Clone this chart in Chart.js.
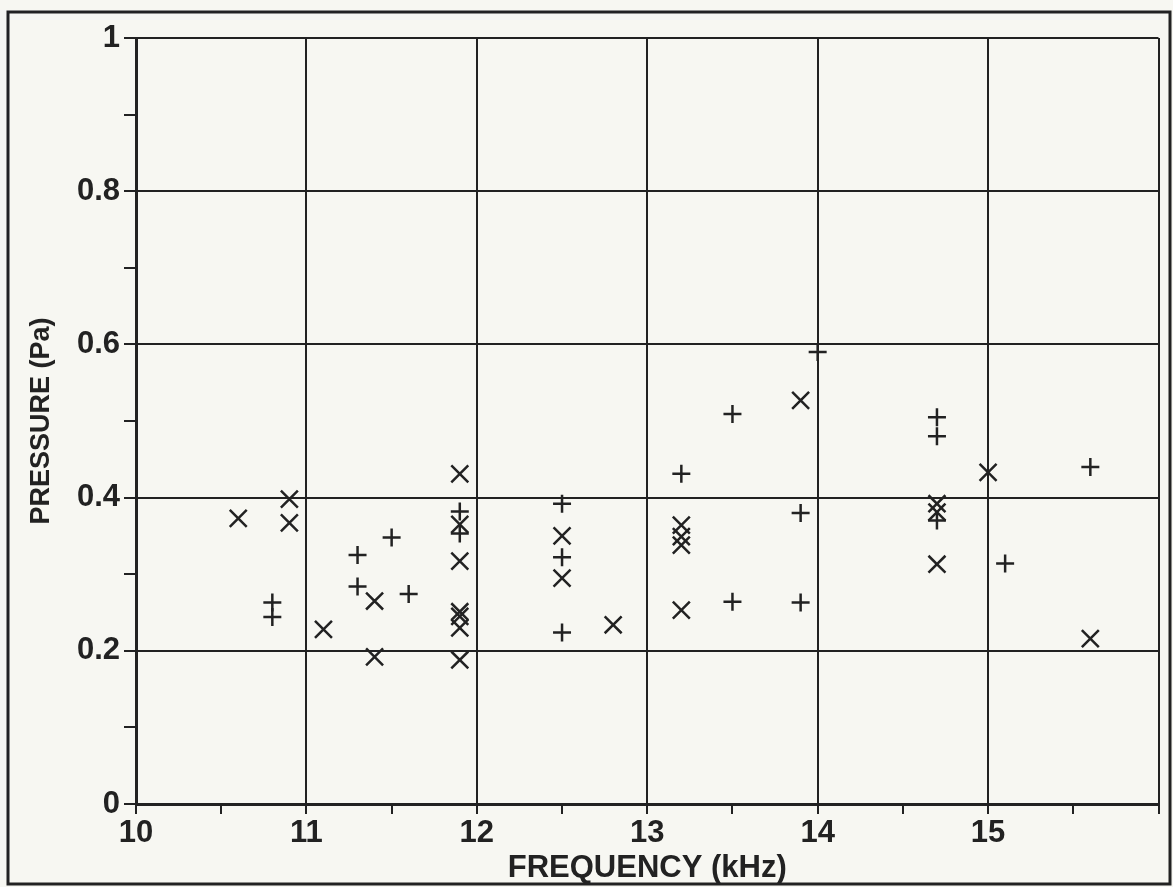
<!DOCTYPE html>
<html>
<head>
<meta charset="utf-8">
<script src="https://cdn.jsdelivr.net/npm/chart.js@4.4.0/dist/chart.umd.min.js"></script>
<style>
  html, body { margin: 0; padding: 0; background: #f7f7f2; }
</style>
</head>
<body>
<canvas id="pressureChart" width="1173" height="887"></canvas>
<script>
// "+" series
var plusFreq = [10.8, 10.8, 11.3, 11.3, 11.5, 11.6, 11.9, 11.9, 12.5, 12.5, 12.5,
                13.2, 13.5, 13.5, 13.9, 13.9, 14.0, 14.7, 14.7, 14.7, 15.1, 15.6];
var plusPressure = [0.263, 0.244, 0.325, 0.284, 0.348, 0.274, 0.382, 0.353, 0.392, 0.322, 0.224,
                    0.431, 0.509, 0.264, 0.380, 0.263, 0.590, 0.505, 0.480, 0.370, 0.314, 0.440];

// "x" series
var crossFreq = [10.6, 10.9, 10.9, 11.1, 11.4, 11.4, 11.9, 11.9, 11.9, 11.9, 11.9, 11.9, 11.9,
                 12.5, 12.5, 12.8, 13.2, 13.2, 13.2, 13.2, 13.9, 14.7, 14.7, 14.7, 15.0, 15.6];
var crossPressure = [0.373, 0.398, 0.367, 0.228, 0.265, 0.192, 0.431, 0.365, 0.317, 0.251, 0.245, 0.230, 0.188,
                     0.350, 0.295, 0.234, 0.364, 0.349, 0.338, 0.253, 0.527, 0.392, 0.381, 0.313, 0.433, 0.216];

var xTickLabels = [10, 11, 12, 13, 14, 15];
var yTickLabels = [0, 0.2, 0.4, 0.6, 0.8, 1];

var ink = '#222222';
var fontFamily = '"Liberation Sans", Arial, sans-serif';
var tickFont = { family: fontFamily, size: 31, weight: 'bold' };

function points(xs, ys) {
    return xs.map(function (x, i) { return { x: x, y: ys[i] }; });
}
function isXMajor(v) { return xTickLabels.indexOf(v) !== -1 || Math.abs(v - 16) < 1e-6; }
function isYMajor(v) {
    var r = Math.round(v * 10) / 10;
    return yTickLabels.indexOf(r) !== -1;
}

var paperPlugin = {
    id: 'paper',
    beforeDraw: function (chart) {
        var c = chart.ctx;
        c.save();
        c.fillStyle = '#f7f7f2';
        c.fillRect(0, 0, chart.width, chart.height);
        c.restore();
    },
    afterDraw: function (chart) {
        var c = chart.ctx;
        c.save();
        c.strokeStyle = ink;
        c.lineWidth = 3;
        c.strokeRect(8, 12, 1162, 872);
        c.restore();
    }
};

new Chart(document.getElementById('pressureChart').getContext('2d'), {
    type: 'scatter',
    data: {
        datasets: [{
            label: '+',
            data: points(plusFreq, plusPressure),
            pointStyle: 'cross',
            pointRadius: 9,
            pointBorderWidth: 2.5,
            borderColor: ink,
            backgroundColor: ink
        }, {
            label: 'x',
            data: points(crossFreq, crossPressure),
            pointStyle: 'crossRot',
            pointRadius: 12,
            pointBorderWidth: 2.5,
            borderColor: ink,
            backgroundColor: ink
        }]
    },
    options: {
        responsive: false,
        animation: false,
        events: [],
        layout: { padding: { top: 38, right: 11, left: 0, bottom: 0 } },
        plugins: { legend: { display: false }, tooltip: { enabled: false } },
        scales: {
            x: {
                type: 'linear',
                min: 10,
                max: 16,
                afterFit: function (s) { s.height = 83; },
                afterBuildTicks: function (s) {
                    var t = [];
                    for (var i = 0; i <= 12; i++) t.push({ value: 10 + i * 0.5 });
                    s.ticks = t;
                },
                ticks: {
                    autoSkip: false,
                    maxRotation: 0,
                    padding: 1,
                    color: ink,
                    font: tickFont,
                    callback: function (v) { return xTickLabels.indexOf(v) !== -1 ? String(v) : ''; }
                },
                grid: {
                    color: function (ctx) { return isXMajor(ctx.tick.value) ? ink : 'rgba(0,0,0,0)'; },
                    tickColor: ink,
                    lineWidth: 2,
                    tickLength: 10
                },
                border: { color: ink, width: 3 },
                title: {
                    display: true,
                    text: 'FREQUENCY (kHz)',
                    color: ink,
                    font: { family: fontFamily, size: 31, weight: 'bold' },
                    padding: { top: 0, bottom: 0 }
                }
            },
            y: {
                type: 'linear',
                min: 0,
                max: 1,
                afterFit: function (s) { s.width = 136; },
                afterBuildTicks: function (s) {
                    var t = [];
                    for (var i = 0; i <= 10; i++) t.push({ value: i / 10 });
                    s.ticks = t;
                },
                ticks: {
                    autoSkip: false,
                    padding: 4,
                    color: ink,
                    font: tickFont,
                    callback: function (v) { return isYMajor(v) ? String(Math.round(v * 10) / 10) : ''; }
                },
                grid: {
                    color: function (ctx) { return isYMajor(ctx.tick.value) ? ink : 'rgba(0,0,0,0)'; },
                    tickColor: ink,
                    lineWidth: 2,
                    tickLength: 12
                },
                border: { color: ink, width: 3 },
                title: {
                    display: true,
                    text: 'PRESSURE (Pa)',
                    color: ink,
                    font: { family: fontFamily, size: 27, weight: 'bold' },
                    padding: { top: 25, bottom: 0 }
                }
            }
        }
    },
    plugins: [paperPlugin]
});
</script>
</body>
</html>
